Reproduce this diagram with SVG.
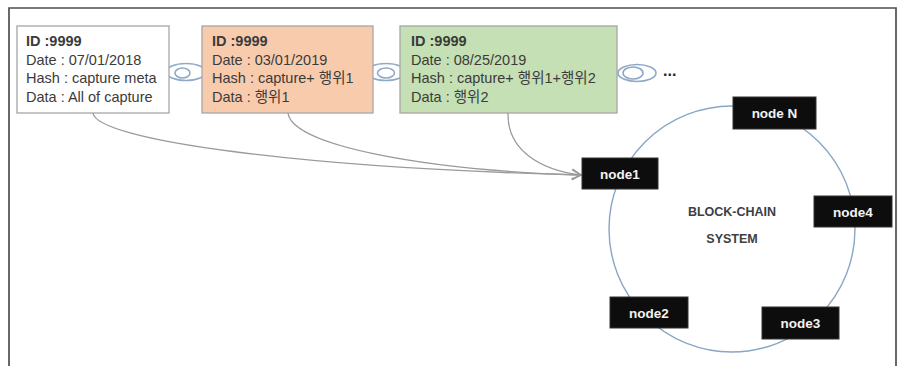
<svg xmlns="http://www.w3.org/2000/svg" width="900" height="366" viewBox="0 0 900 366">
<defs>
<style>
.blk{stroke:#a6a6a6;stroke-width:1.3}
.t{font-family:"Liberation Sans","Noto Sans CJK KR",sans-serif;font-size:14.5px;fill:#3b3b3b}
.b{font-weight:bold}
.link{fill:none;stroke:#8fa9c6;stroke-width:1.6}
.nd{fill:#0d0d0d;stroke:#333;stroke-width:1}
.nt{font-family:"Liberation Sans",sans-serif;font-size:13.5px;font-weight:bold;fill:#f2f2f2;text-anchor:middle}
.ct{font-family:"Liberation Sans",sans-serif;font-size:12.5px;font-weight:bold;fill:#404040;text-anchor:middle}
.conn{fill:none;stroke:#9a9a9a;stroke-width:1.3}
</style>
<marker id="arr" markerWidth="12" markerHeight="12" refX="10" refY="6" orient="auto" markerUnits="userSpaceOnUse">
<path d="M1,1 L10,6 L1,11" fill="none" stroke="#9a9a9a" stroke-width="1.3"/>
</marker>
</defs>
<rect width="900" height="366" fill="#fff"/>
<path d="M9,366 L9,8 L896,8 L896,366" fill="none" stroke="#4f4f4f" stroke-width="1.7"/>

<g id="chain-links">
<ellipse class="link" cx="186" cy="72" rx="20" ry="8.5"/>
<ellipse class="link" cx="182.5" cy="73" rx="7.5" ry="5"/>
<ellipse class="link" cx="386" cy="72" rx="20" ry="8.5"/>
<ellipse class="link" cx="386" cy="73" rx="8.5" ry="5"/>
<ellipse class="link" cx="637" cy="73" rx="19" ry="8.5"/>
<ellipse class="link" cx="633" cy="73" rx="10" ry="6"/>
<text x="663" y="76" font-family="Liberation Sans,sans-serif" font-size="16" font-weight="bold" fill="#222">...</text>
</g>

<g id="block1">
<rect class="blk" x="17" y="26" width="152" height="87" fill="#ffffff"/>
<text class="t b" x="26" y="46">ID :9999</text>
<text class="t" x="26" y="64.5">Date : 07/01/2018</text>
<text class="t" x="26" y="83">Hash : capture meta</text>
<text class="t" x="26" y="101.5">Data : All of capture</text>
</g>

<g id="block2">
<rect class="blk" x="202" y="26" width="171" height="87" fill="#f8cbad"/>
<text class="t b" x="212" y="46">ID :9999</text>
<text class="t" x="212" y="64.5">Date : 03/01/2019</text>
<text class="t" x="212" y="83">Hash : capture+ 행위1</text>
<text class="t" x="212" y="101.5">Data : 행위1</text>
</g>

<g id="block3">
<rect class="blk" x="400" y="26" width="217" height="87" fill="#c5e0b4"/>
<text class="t b" x="411" y="46">ID :9999</text>
<text class="t" x="411" y="64.5">Date : 08/25/2019</text>
<text class="t" x="411" y="83">Hash : capture+ 행위1+행위2</text>
<text class="t" x="411" y="101.5">Data : 행위2</text>
</g>

<g id="connectors">
<path class="conn" d="M93,113 C96,140 300,168 581,175" marker-end="url(#arr)"/>
<path class="conn" d="M288,113 C292,145 420,170 581,175" marker-end="url(#arr)"/>
<path class="conn" d="M508,113 C507,150 540,170 581,175" marker-end="url(#arr)"/>
</g>

<g id="blockchain-system">
<circle cx="732" cy="229" r="123" fill="none" stroke="#8aa6c4" stroke-width="1.4"/>
<text class="ct" x="732" y="216">BLOCK-CHAIN</text>
<text class="ct" x="732" y="243">SYSTEM</text>
</g>

<g id="nodeN"><rect class="nd" x="733" y="97" width="83" height="32"/><text class="nt" x="774.5" y="118">node N</text></g>
<g id="node1"><rect class="nd" x="582" y="158" width="76" height="31"/><text class="nt" x="620" y="178.5">node1</text></g>
<g id="node4"><rect class="nd" x="814" y="196" width="78" height="31"/><text class="nt" x="853" y="216.5">node4</text></g>
<g id="node2"><rect class="nd" x="610" y="297" width="78" height="31"/><text class="nt" x="649" y="317.5">node2</text></g>
<g id="node3"><rect class="nd" x="762" y="307" width="77" height="32"/><text class="nt" x="800.5" y="328">node3</text></g>
</svg>
